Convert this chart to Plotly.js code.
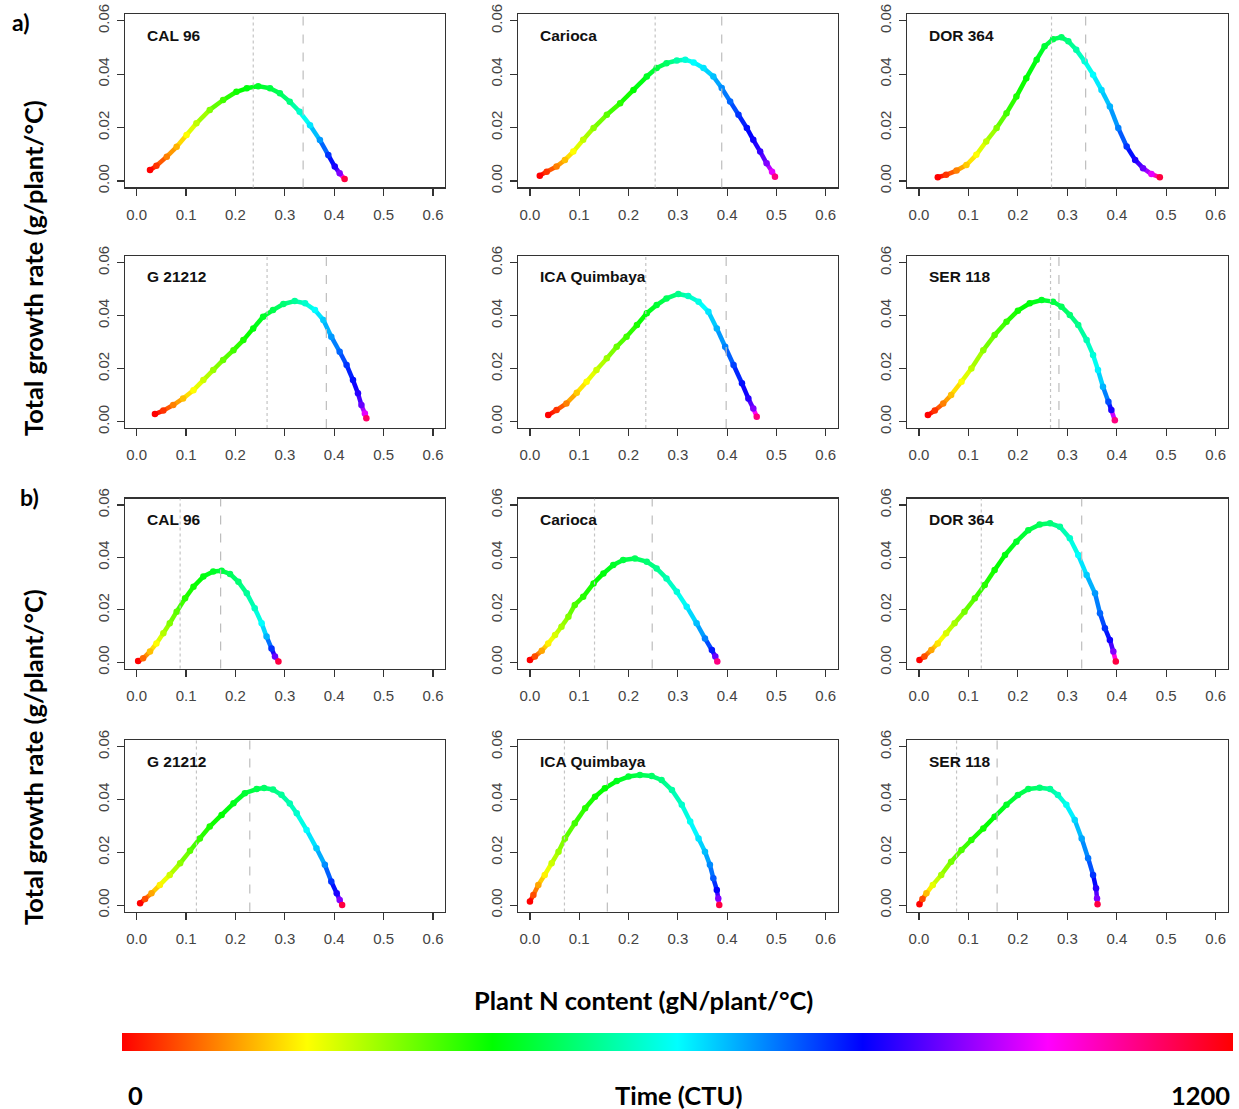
<!DOCTYPE html>
<html><head><meta charset="utf-8">
<script src="https://cdn.plot.ly/plotly-3.0.1.min.js"></script>
<style>html,body{margin:0;padding:0;background:#fff}</style>
</head><body><div id="chart" style="width:1239px;height:1109px"></div>
<script>
// ---------------- DATA ----------------
const panelNames = ["CAL 96","Carioca","DOR 364","G 21212","ICA Quimbaya","SER 118",
                    "CAL 96","Carioca","DOR 364","G 21212","ICA Quimbaya","SER 118"];
const xTickVals = [0,0.1,0.2,0.3,0.4,0.5,0.6];
const xTickText = ["0.0","0.1","0.2","0.3","0.4","0.5","0.6"];
const yTickVals = [0,0.02,0.04,0.06];
const yTickText = ["0.00","0.02","0.04","0.06"];
const dottedX = [0.236,0.254,0.268,0.264,0.235,0.266, 0.088,0.131,0.126,0.121,0.070,0.076];
const dashedX = [0.337,0.389,0.337,0.384,0.398,0.283, 0.170,0.248,0.329,0.229,0.157,0.158];

// a) CAL 96
const nA1 = [0.027,0.040,0.061,0.081,0.101,0.121,0.148,0.175,0.202,0.223,0.246,0.270,0.290,0.310,0.330,0.351,0.371,0.388,0.401,0.411,0.421];
const gA1 = [0.0041,0.0057,0.0091,0.0128,0.0172,0.0216,0.0266,0.0303,0.0334,0.0347,0.0355,0.0347,0.0328,0.0297,0.0259,0.0209,0.0153,0.0097,0.0054,0.0029,0.0007];
const tA1 = [0,40,100,140,200,250,300,350,390,410,430,450,470,500,560,620,680,760,820,900,1150];
// a) Carioca
const nA2 = [0.020,0.034,0.054,0.071,0.088,0.108,0.129,0.156,0.183,0.210,0.237,0.257,0.277,0.298,0.315,0.332,0.352,0.372,0.389,0.406,0.423,0.440,0.453,0.467,0.480,0.491,0.497];
const gA2 = [0.0020,0.0035,0.0054,0.0079,0.0110,0.0154,0.0198,0.0248,0.0291,0.0341,0.0391,0.0423,0.0441,0.0451,0.0454,0.0444,0.0423,0.0391,0.0348,0.0298,0.0248,0.0198,0.0154,0.0110,0.0066,0.0035,0.0016];
const tA2 = [0,40,100,150,200,250,290,330,370,400,430,450,480,530,570,600,620,650,690,720,760,790,810,840,900,980,1100];
// a) DOR 364
const nA3 = [0.038,0.055,0.076,0.096,0.116,0.136,0.157,0.177,0.197,0.217,0.238,0.254,0.271,0.288,0.302,0.318,0.335,0.352,0.369,0.386,0.403,0.420,0.437,0.453,0.470,0.487];
const gA3 = [0.0014,0.0023,0.0039,0.0060,0.0098,0.0148,0.0198,0.0254,0.0316,0.0385,0.0454,0.0504,0.0531,0.0538,0.0523,0.0491,0.0448,0.0398,0.0341,0.0279,0.0198,0.0129,0.0079,0.0048,0.0026,0.0014];
const tA3 = [0,40,100,160,200,250,300,350,380,400,420,440,460,480,500,530,570,600,630,660,700,760,820,880,980,1150];
// a) G 21212
const nA4 = [0.037,0.054,0.074,0.094,0.115,0.135,0.155,0.175,0.196,0.216,0.236,0.256,0.276,0.297,0.320,0.341,0.361,0.378,0.394,0.411,0.425,0.438,0.448,0.455,0.462,0.465];
const gA4 = [0.0029,0.0042,0.0063,0.0088,0.0119,0.0157,0.0195,0.0233,0.0270,0.0308,0.0352,0.0396,0.0421,0.0444,0.0455,0.0447,0.0421,0.0384,0.0321,0.0264,0.0214,0.0157,0.0107,0.0063,0.0031,0.0013];
const tA4 = [0,40,100,150,200,240,280,320,350,380,410,430,460,490,520,560,600,640,680,720,760,790,830,880,980,1120];
// a) ICA Quimbaya
const nA5 = [0.037,0.054,0.074,0.095,0.115,0.135,0.156,0.176,0.196,0.217,0.237,0.257,0.277,0.301,0.321,0.342,0.362,0.379,0.396,0.413,0.430,0.443,0.453,0.460];
const gA5 = [0.0025,0.0044,0.0069,0.0109,0.0151,0.0195,0.0239,0.0283,0.0321,0.0365,0.0409,0.0440,0.0465,0.0482,0.0474,0.0453,0.0415,0.0352,0.0283,0.0214,0.0145,0.0088,0.0050,0.0019];
const tA5 = [0,40,100,160,200,240,280,320,350,380,410,440,470,510,550,580,620,660,700,750,790,830,900,1100];
// a) SER 118
const nA6 = [0.018,0.032,0.049,0.065,0.086,0.106,0.130,0.153,0.177,0.200,0.224,0.248,0.271,0.288,0.305,0.322,0.339,0.352,0.362,0.372,0.383,0.389,0.396];
const gA6 = [0.0025,0.0042,0.0069,0.0101,0.0151,0.0201,0.0270,0.0327,0.0377,0.0419,0.0447,0.0459,0.0453,0.0434,0.0403,0.0365,0.0308,0.0252,0.0195,0.0132,0.0075,0.0044,0.0006];
const tA6 = [0,40,100,150,200,250,290,330,360,390,410,430,450,470,490,510,540,570,610,660,740,820,1100];
// b) CAL 96
const nB1 = [0.003,0.013,0.027,0.040,0.054,0.067,0.081,0.098,0.115,0.135,0.155,0.172,0.189,0.206,0.223,0.239,0.253,0.263,0.273,0.280,0.287];
const gB1 = [0.0005,0.0015,0.0041,0.0072,0.0111,0.0149,0.0193,0.0244,0.0288,0.0327,0.0346,0.0349,0.0337,0.0307,0.0263,0.0206,0.0149,0.0098,0.0053,0.0022,0.0003];
const tB1 = [0,80,150,200,260,300,330,370,390,410,430,450,470,490,520,550,600,660,760,880,1150];
// b) Carioca
const nB2 = [0.000,0.010,0.024,0.037,0.051,0.064,0.078,0.091,0.108,0.129,0.149,0.169,0.189,0.213,0.237,0.257,0.277,0.298,0.318,0.338,0.355,0.369,0.376,0.380];
const gB2 = [0.0009,0.0022,0.0044,0.0072,0.0104,0.0136,0.0174,0.0219,0.0250,0.0301,0.0339,0.0371,0.0390,0.0396,0.0384,0.0358,0.0320,0.0269,0.0212,0.0149,0.0091,0.0047,0.0022,0.0003];
const tB2 = [0,60,130,190,230,270,300,340,370,390,410,430,450,470,490,510,540,570,610,650,700,780,880,1100];
// b) DOR 364
const nB3 = [0.001,0.011,0.025,0.038,0.055,0.072,0.092,0.113,0.133,0.153,0.174,0.197,0.221,0.244,0.265,0.285,0.305,0.322,0.339,0.356,0.366,0.376,0.386,0.393,0.398];
const gB3 = [0.0009,0.0022,0.0047,0.0072,0.0111,0.0149,0.0193,0.0244,0.0295,0.0352,0.0409,0.0460,0.0504,0.0526,0.0530,0.0517,0.0473,0.0409,0.0333,0.0263,0.0187,0.0130,0.0085,0.0041,0.0003];
const tB3 = [0,60,130,180,230,270,310,340,370,390,410,430,450,470,490,520,560,600,640,680,720,760,810,900,1150];
// b) G 21212
const nB4 = [0.007,0.017,0.030,0.047,0.067,0.088,0.108,0.128,0.148,0.172,0.196,0.219,0.243,0.258,0.276,0.293,0.310,0.324,0.344,0.364,0.381,0.394,0.405,0.411,0.416];
const gB4 = [0.0008,0.0024,0.0045,0.0077,0.0115,0.0159,0.0206,0.0253,0.0298,0.0342,0.0386,0.0424,0.0440,0.0444,0.0438,0.0418,0.0385,0.0348,0.0285,0.0216,0.0153,0.0090,0.0045,0.0020,0.0001];
const tB4 = [0,60,130,190,240,290,330,360,380,400,420,440,460,480,500,520,540,560,600,640,690,760,820,900,1150];
// b) ICA Quimbaya
const nB5 = [0.000,0.007,0.017,0.030,0.044,0.058,0.071,0.091,0.112,0.132,0.152,0.176,0.200,0.223,0.247,0.267,0.288,0.308,0.325,0.342,0.355,0.365,0.372,0.379,0.382,0.384];
const gB5 = [0.0014,0.0039,0.0077,0.0115,0.0159,0.0203,0.0253,0.0310,0.0367,0.0411,0.0443,0.0470,0.0487,0.0493,0.0489,0.0474,0.0436,0.0380,0.0317,0.0253,0.0203,0.0153,0.0102,0.0058,0.0026,0.0001];
const tB5 = [0,60,130,190,240,280,310,350,370,390,400,420,440,460,480,500,530,560,590,620,650,690,730,800,900,1150];
// b) SER 118
const nB6 = [0.001,0.007,0.015,0.028,0.045,0.065,0.086,0.106,0.130,0.153,0.177,0.200,0.221,0.244,0.265,0.281,0.298,0.315,0.329,0.342,0.352,0.358,0.360,0.361];
const gB6 = [0.0004,0.0024,0.0045,0.0077,0.0115,0.0165,0.0209,0.0247,0.0291,0.0335,0.0380,0.0417,0.0440,0.0445,0.0440,0.0417,0.0380,0.0323,0.0253,0.0178,0.0115,0.0064,0.0026,0.0004];
const tB6 = [0,60,150,220,270,310,340,370,390,410,430,450,470,490,520,550,590,630,670,710,760,830,900,1150];

const nAll = [nA1,nA2,nA3,nA4,nA5,nA6,nB1,nB2,nB3,nB4,nB5,nB6];
const gAll = [gA1,gA2,gA3,gA4,gA5,gA6,gB1,gB2,gB3,gB4,gB5,gB6];
const tAll = [tA1,tA2,tA3,tA4,tA5,tA6,tB1,tB2,tB3,tB4,tB5,tB6];
const timeMax = 1200;

// ---------------- STYLE ----------------
const W = 1239, H = 1109;
const colPx = [[124.8,444.9],[518.1,837.6],[907.1,1227.6]];
const rowPx = [[14.3,187.4],[256.3,428.1],[498.7,668.6],[740.4,911.6]];
const rainbowScale = [[0,'rgb(255,0,0)'],[1/6,'rgb(255,255,0)'],[2/6,'rgb(0,255,0)'],
  [3/6,'rgb(0,255,255)'],[4/6,'rgb(0,0,255)'],[5/6,'rgb(255,0,255)'],[1,'rgb(255,0,0)']];
function rainbow(t){
  const h = (t/timeMax)*6; const i = Math.floor(h)%6; const f = h-Math.floor(h);
  const p = Math.round(255*f), q = Math.round(255*(1-f));
  const c = [[255,p,0],[q,255,0],[0,255,p],[0,q,255],[p,0,255],[255,0,q]][i];
  return `rgb(${c[0]},${c[1]},${c[2]})`;
}
const tickFont = {family:'Liberation Sans, Arial', size:15, color:'#444'};
const boldFont = {family:'Lato, Liberation Sans', size:25.5, color:'#000', weight:'bold'};

const layout = {width:W, height:H, margin:{l:0,r:0,t:0,b:0}, showlegend:false,
  paper_bgcolor:'#fff', plot_bgcolor:'#fff', shapes:[], annotations:[]};
const traces = [];

for (let k=0;k<12;k++){
  const r = Math.floor(k/3), c = k%3, id = k+1;
  const xa = 'xaxis'+(id===1?'':id), ya = 'yaxis'+(id===1?'':id);
  const xr = 'x'+(id===1?'':id), yr = 'y'+(id===1?'':id);
  layout[xa] = {domain:[colPx[c][0]/W, colPx[c][1]/W], range:[-0.024,0.624], anchor:yr,
    showgrid:false, zeroline:false, showline:true, mirror:true, linecolor:'#333', linewidth:1.3,
    ticks:'outside', ticklen:7, tickwidth:1.2, tickcolor:'#333', tickvals:xTickVals, ticktext:xTickText,
    tickfont:tickFont, ticklabelstandoff:6, fixedrange:true};
  layout[ya] = {domain:[1-rowPx[r][1]/H, 1-rowPx[r][0]/H], range:[-0.0024,0.0624], anchor:xr,
    showgrid:false, zeroline:false, showline:true, mirror:true, linecolor:'#333', linewidth:1.3,
    ticks:'outside', ticklen:7, tickwidth:1.2, tickcolor:'#333', tickvals:yTickVals, ticktext:yTickText,
    tickangle:-90, tickfont:tickFont, ticklabelstandoff:2, fixedrange:true};
  const n = nAll[k], g = gAll[k], t = tAll[k];
  for (let i=0;i<n.length-1;i++){
    traces.push({type:'scatter', mode:'lines', x:[n[i],n[i+1]], y:[g[i],g[i+1]], xaxis:xr, yaxis:yr,
      line:{color:rainbow((t[i]+t[i+1])/2), width:4.5}, hoverinfo:'skip'});
  }
  const tr = {type:'scatter', mode:'markers', x:n, y:g, xaxis:xr, yaxis:yr,
    marker:{size:6.5, color:t, colorscale:rainbowScale, cmin:0, cmax:timeMax, line:{width:0},
      showscale:k===0}};
  if (k===0){
    tr.marker.colorbar = {orientation:'h', x:(122+1233)/2/W, xanchor:'center', y:1-1051/H, yanchor:'bottom',
      len:1111, lenmode:'pixels', thickness:18, thicknessmode:'pixels', outlinewidth:0,
      showticklabels:false, ticks:'', xpad:0, ypad:0};
  }
  traces.push(tr);
  layout.shapes.push({type:'line', xref:xr, yref:yr+' domain', x0:dottedX[k], x1:dottedX[k], y0:0, y1:1,
    line:{color:'#c4c4c4', width:1.2, dash:'dot'}});
  layout.shapes.push({type:'line', xref:xr, yref:yr+' domain', x0:dashedX[k], x1:dashedX[k], y0:0, y1:1,
    line:{color:'#bdbdbd', width:1.2, dash:'dash'}});
  layout.annotations.push({xref:xr, yref:yr, x:0.017, y:0.0546, xanchor:'left', yanchor:'middle',
    text:panelNames[k], showarrow:false,
    font:{family:'Liberation Sans, Arial', size:15.5, color:'#111', weight:'bold'}});
}

const paperAnn = (text, px, py, extra) => Object.assign({xref:'paper', yref:'paper', x:px/W, y:1-py/H,
  xanchor:'center', yanchor:'middle', text:text, showarrow:false, font:boldFont}, extra||{});
layout.annotations.push(paperAnn('a)', 21, 22, {font:Object.assign({}, boldFont, {size:23})}));
layout.annotations.push(paperAnn('b)', 29, 497, {font:Object.assign({}, boldFont, {size:23})}));
layout.annotations.push(paperAnn('Total growth rate (g/plant/°C)', 33, 268, {textangle:-90}));
layout.annotations.push(paperAnn('Total growth rate (g/plant/°C)', 33, 757, {textangle:-90}));
layout.annotations.push(paperAnn('Plant N content (gN/plant/°C)', 643, 1000));
layout.annotations.push(paperAnn('0', 135, 1095));
layout.annotations.push(paperAnn('Time (CTU)', 678, 1095));
layout.annotations.push(paperAnn('1200', 1200, 1095));

Plotly.newPlot('chart', traces, layout, {staticPlot:true, displayModeBar:false});
</script></body></html>
